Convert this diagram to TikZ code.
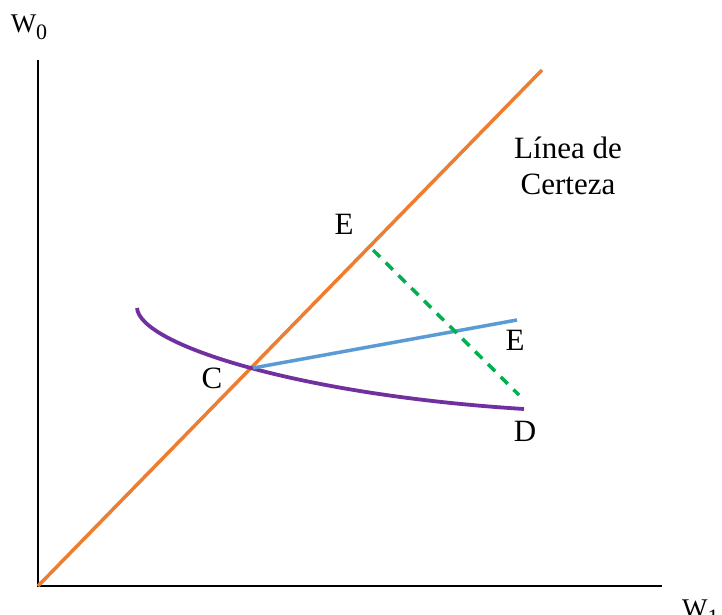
\documentclass[tikz,border=0pt]{standalone}
\usepackage{fontspec}
\setmainfont{Liberation Serif}
\definecolor{lineorange}{HTML}{ED7D31}
\definecolor{lineblue}{HTML}{5B9BD5}
\definecolor{linepurple}{HTML}{7030A0}
\definecolor{linegreen}{HTML}{00B050}
\begin{document}
\begin{tikzpicture}[x=1pt, y=-1pt]
  \tikzset{
    axis/.style={draw=black, line width=1.8pt},
    certeza/.style={draw=lineorange, line width=3.5pt},
    indif/.style={draw=linepurple, line width=3.8pt},
    budget/.style={draw=lineblue, line width=3.5pt},
    dashline/.style={draw=linegreen, line width=3.5pt, dash pattern=on 10pt off 8pt},
    lbl/.style={font=\fontsize{31}{36}\selectfont, inner sep=0pt},
    axlbl/.style={font=\fontsize{27}{30}\selectfont, inner sep=0pt},
  }
  \useasboundingbox (0,0) rectangle (722,615);
  % Ejes
  \coordinate (O)    at (38,586);
  \coordinate (ytop) at (38,60);
  \coordinate (xend) at (662,586);
  \draw[axis] (ytop) -- (O) -- (xend);
  \node[axlbl] (w0) at (29,27) {W\raisebox{-0.25em}{\fontsize{22}{26}\selectfont 0}};
  \node[axlbl, anchor=north west] (w1) at (682,600) {W\raisebox{-0.25em}{\fontsize{22}{26}\selectfont 1}};
  % Linea de certeza
  \coordinate (ctop) at (542,70);
  \draw[certeza] (O) -- (ctop);
  \node[lbl, align=center] (certlbl) at (568,166) {Línea de\\Certeza};
  % Puntos
  \coordinate (C)  at (253,368);
  \coordinate (Eb) at (517,320);
  \coordinate (Eg) at (373,250);
  \coordinate (Ed) at (519,395);
  \coordinate (cstart) at (137,308);
  \coordinate (D)  at (524,409);
  % Curvas
  \draw[indif] (cstart) .. controls (140,345) and (300,395) .. (D);
  \draw[budget] (C) -- (Eb);
  \draw[dashline] (Eg) -- (Ed);
  % Etiquetas
  \node[lbl] (lblE1) at (344,224) {E};
  \node[lbl] (lblE2) at (515,340) {E};
  \node[lbl] (lblC)  at (212,378) {C};
  \node[lbl] (lblD)  at (525,431) {D};
\end{tikzpicture}
\end{document}
